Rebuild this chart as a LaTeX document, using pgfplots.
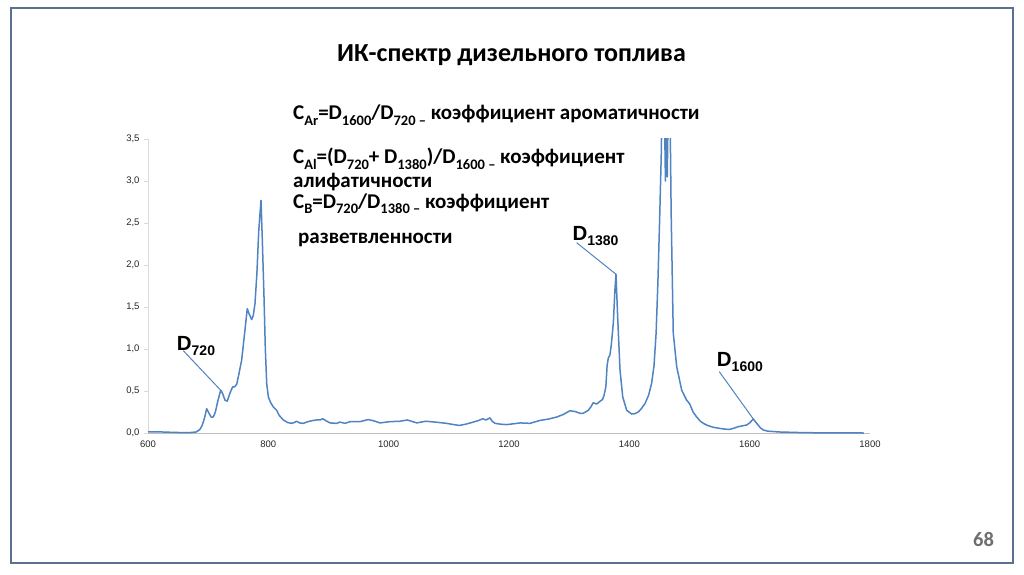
\documentclass[border=0pt]{standalone}
\usepackage{pgfplots}
\pgfplotsset{compat=1.18}
\usepackage{fontspec}
\setmainfont{Carlito}
\newfontfamily\arial{Liberation Sans}
\definecolor{curve}{HTML}{4F83C2}
\definecolor{frame}{HTML}{5B6F8E}
\definecolor{yax}{HTML}{D9D9D9}
\definecolor{xax}{HTML}{BFBFBF}
\definecolor{pnum}{HTML}{6E6E6E}
\newcommand\sub[1]{\raisebox{-5.5pt}{\fontsize{14.5}{15}\selectfont #1}}
\newcommand\dsub[1]{\raisebox{-5pt}{\fontsize{14}{14}\selectfont #1}}
\begin{document}
\begin{tikzpicture}[x=1pt,y=1pt]
\path[use as bounding box] (0,0) rectangle (1024,574);
\draw[frame, line width=2pt] (11,566) rectangle (1013,11);
\begin{axis}[
  scale only axis, width=722pt, height=294pt,
  at={(148pt,141pt)}, anchor=south west,
  xmin=600, xmax=1800, ymin=0, ymax=3.5,
  axis x line*=bottom, axis y line*=left,
  x axis line style={-, color=xax, line width=1pt},
  y axis line style={-, color=yax, line width=1pt},
  xtick={600,800,1000,1200,1400,1600,1800},
  xticklabels={600,800,1000,1200,1400,1600,1800},
  ytick={0,0.5,1,1.5,2,2.5,3,3.5},
  yticklabels={{0,0},{0,5},{1,0},{1,5},{2,0},{2,5},{3,0},{3,5}},
  tick align=outside, major tick length=4pt,
  xtick style={draw=none},
  ytick style={color=yax, line width=0.8pt},
  ticklabel style={font=\arial\fontsize{9.5}{10}\selectfont, text=black!85},
  yticklabel style={xshift=-1pt},
  clip=true,
]
\addplot[curve, line width=1.5pt, line join=round] coordinates {
(600,0.015) (620,0.013) (640,0.008) (660,0.004) (670,0.005) (680,0.012)
(686,0.04) (690,0.09) (694,0.18) (697.5,0.29) (701,0.24) (705,0.19)
(708.5,0.19) (712,0.25) (716,0.38) (720.8,0.51) (724,0.47) (728,0.39)
(731.8,0.38) (736,0.47) (740.7,0.55) (744,0.55) (747.4,0.58) (751,0.70)
(755.7,0.87) (760,1.15) (765,1.48) (768,1.42) (772.3,1.35) (775,1.40)
(777.8,1.54) (781,1.90) (784,2.40) (787.8,2.77) (790,2.30) (792.8,1.62)
(795,1.00) (797.3,0.59) (800,0.43) (804,0.36) (808.3,0.31) (813.9,0.27)
(818,0.21) (824.9,0.155) (832,0.125) (838.8,0.115) (843,0.125) (847,0.14)
(852,0.12) (858,0.115) (866,0.135) (874.8,0.15) (880,0.155) (886,0.155)
(890.3,0.17) (896,0.145) (902.5,0.12) (913.6,0.115) (919,0.13) (927.4,0.115)
(935.7,0.135) (952.3,0.135) (966,0.16) (975,0.145) (985.6,0.12) (1002,0.135)
(1018.8,0.14) (1031,0.155) (1038,0.14) (1046.6,0.12) (1062,0.14) (1077,0.13)
(1096.4,0.115) (1108,0.10) (1117.4,0.09) (1128,0.105) (1140.7,0.13) (1150,0.15)
(1156.3,0.17) (1161.7,0.155) (1168.4,0.18) (1172,0.14) (1176.7,0.115) (1186,0.105)
(1196,0.10) (1208,0.11) (1218.6,0.12) (1234.9,0.115) (1251.5,0.15) (1265,0.165)
(1279.2,0.19) (1290,0.22) (1301.4,0.265) (1310,0.255) (1318,0.235) (1323.5,0.235)
(1331.8,0.27) (1336,0.31) (1340,0.36) (1345.7,0.345) (1350,0.37) (1355.6,0.40)
(1358,0.45) (1361,0.55) (1363,0.80) (1365,0.89) (1367.8,0.93) (1370,1.05)
(1373.4,1.31) (1376,1.70) (1377.8,1.89) (1380.6,1.38) (1384.5,0.75) (1389,0.43)
(1395.6,0.27) (1403.9,0.226) (1409,0.23) (1414.9,0.25) (1420,0.29) (1426,0.35)
(1432,0.45) (1437,0.59) (1441,0.80) (1444.5,1.19) (1447.5,1.80) (1450.5,2.58)
(1453,3.3) (1455,4.2) (1458,4.0) (1460,3.0) (1461.5,3.9) (1463,3.05)
(1465,4.1) (1468,3.6) (1469.5,2.62) (1473,1.19) (1478.7,0.79) (1487,0.51)
(1495.3,0.39) (1500,0.35) (1506,0.25) (1512,0.19) (1518,0.14) (1523,0.115)
(1530,0.09) (1539.5,0.068) (1550,0.055) (1560,0.045) (1567,0.044) (1575,0.06)
(1581,0.075) (1588,0.085) (1595,0.095) (1600,0.12) (1606,0.167) (1610,0.13)
(1614,0.095) (1618,0.06) (1622.6,0.036) (1630,0.022) (1650,0.012) (1680,0.006)
(1705,0.003) (1740,0.001) (1790,0.0)
};
\draw[curve, line width=1pt] (axis cs:658.7,0.98) -- (axis cs:722,0.50);
\draw[curve, line width=1pt] (axis cs:1312.5,2.265) -- (axis cs:1377.8,1.89);
\draw[curve, line width=1pt] (axis cs:1549.5,0.73) -- (axis cs:1606,0.167);
\end{axis}
% title
\node[anchor=base, inner sep=0] at (511.5,512.3) {\fontsize{26}{28}\selectfont\bfseries ИК-спектр дизельного топлива};
% text block
\begin{scope}[every node/.style={anchor=base west, inner sep=0, font=\fontsize{21}{23}\selectfont\bfseries}]
\node at (293,454) {C\sub{Ar}=D\sub{1600}/D\sub{720 –} коэффициент ароматичности};
\node at (293,410) {C\sub{Al}=(D\sub{720}+ D\sub{1380})/D\sub{1600 –} коэффициент};
\node at (293,386.5) {алифатичности};
\node at (293,366) {C\sub{B}=D\sub{720}/D\sub{1380 –} коэффициент};
\node at (298,331) {разветвленности};
\end{scope}
% peak labels
\begin{scope}[every node/.style={anchor=base west, inner sep=0, font=\arial\fontsize{20.5}{22}\selectfont\bfseries}]
\node at (176.7,223.3) {D\dsub{720}};
\node at (572.3,334) {D\dsub{1380}};
\node at (716.7,207.3) {D\dsub{1600}};
\end{scope}
% page number
\node[anchor=base, inner sep=0, text=pnum] at (983.5,28) {\fontsize{20.5}{22}\selectfont\bfseries 68};
\end{tikzpicture}
\end{document}
